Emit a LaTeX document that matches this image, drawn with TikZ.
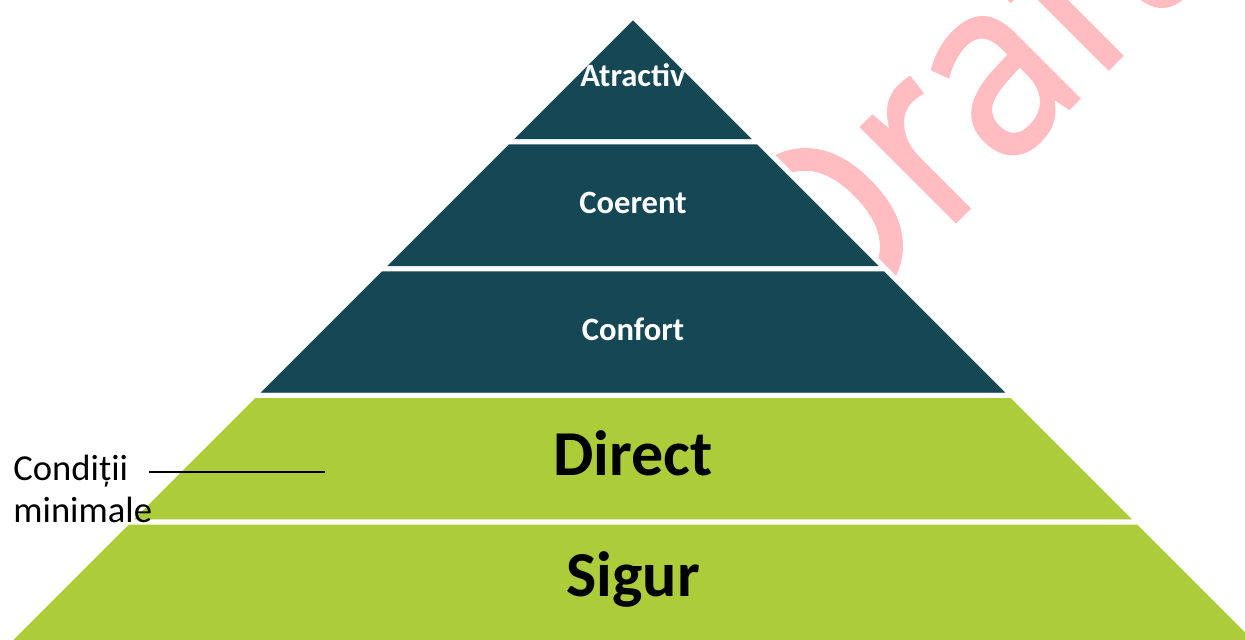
\documentclass[tikz,border=0pt]{standalone}
\usepackage{fontspec}
\setmainfont{Carlito}
\newfontfamily\draftfont[FakeBold=1.5]{Open Sans}
\usepackage{tikz}

\definecolor{pyrteal}{RGB}{21,72,84}
\definecolor{pyrgreen}{RGB}{173,204,58}
\definecolor{draftpink}{RGB}{255,189,193}

\begin{document}
\begin{tikzpicture}[x=0.5pt, y=-0.5pt,
    band/.style={draw=white, line width=2.5pt, line join=miter},
    toplabel/.style={text=white, font=\fontsize{16.3}{19}\selectfont\bfseries, anchor=base},
    baselabel/.style={text=black, font=\fontsize{32}{36}\selectfont\bfseries, anchor=base},
    sidelabel/.style={font=\fontsize{18.3}{21}\selectfont, align=left, anchor=north west, inner sep=0pt}]
        % Frame
        \useasboundingbox (0,0) rectangle (1245,640);
        \clip (0,0) rectangle (1245,640);

        % Watermark
        \node[text=draftpink, font=\draftfont\fontsize{124}{124}\selectfont,
              rotate=45, xscale=0.9, transform shape, anchor=base west, inner sep=0pt] (draft) at (827,350) {Draft};

        % Pyramid bands - apex at (633,16.5), sides at 45 degrees
        \filldraw[band, fill=pyrteal] (633,16.5) -- (758.5,142) -- (507.5,142) -- cycle; % Atractiv
        \filldraw[band, fill=pyrteal] (507.5,142) -- (758.5,142) -- (885.5,269) -- (380.5,269) -- cycle; % Coerent
        \filldraw[band, fill=pyrteal] (380.5,269) -- (885.5,269) -- (1012,395.5) -- (254,395.5) -- cycle; % Confort
        \filldraw[band, fill=pyrgreen] (254,395.5) -- (1012,395.5) -- (1138.5,522) -- (127.5,522) -- cycle; % Direct
        \filldraw[band, fill=pyrgreen] (127.5,522) -- (1138.5,522) -- (1276.5,660) -- (-10.5,660) -- cycle; % Sigur

        % Band labels
        \node[toplabel] (atractiv) at (633,87) {Atractiv};
        \node[toplabel] (coerent) at (633,214) {Coerent};
        \node[toplabel] (confort) at (633,341) {Confort};
        \node[baselabel] (direct) at (633,475) {Direct};
        \node[baselabel] (sigur) at (633,596) {Sigur};

        % Side note
        \node[sidelabel] (minimal) at (13,455) {Condiții\\minimale};
        \coordinate (noteL) at (149,472);
        \coordinate (noteR) at (325,472);
        \draw[line width=1pt] (noteL) -- (noteR);
\end{tikzpicture}
\end{document}
